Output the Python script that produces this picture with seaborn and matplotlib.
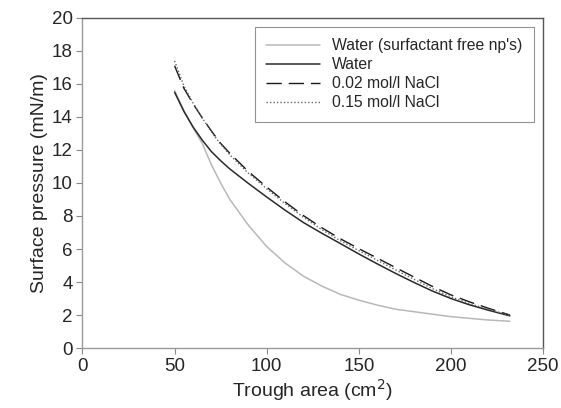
import matplotlib
matplotlib.use("Agg")
import matplotlib.pyplot as plt
import seaborn as sns
import pandas as pd

area = [50, 55, 60, 65, 70, 75, 80, 90, 100, 110, 120, 130, 140, 150, 160,
        170, 180, 190, 200, 210, 220, 232]
free_np = [15.6, 14.4, 13.35, 12.4, 11.1, 10.0, 9.0, 7.45, 6.15, 5.15, 4.35, 3.75,
           3.25, 2.9, 2.6, 2.35, 2.2, 2.05, 1.9, 1.8, 1.7, 1.62]
water = [15.5, 14.35, 13.4, 12.6, 11.9, 11.35, 10.85, 9.98, 9.15, 8.35, 7.6, 6.95,
         6.33, 5.7, 5.1, 4.52, 3.97, 3.45, 3.0, 2.62, 2.3, 1.95]
nacl_002 = [17.1, 15.75, 14.8, 13.95, 13.15, 12.4, 11.8, 10.7, 9.75, 8.85, 8.02, 7.28,
            6.62, 6.02, 5.45, 4.87, 4.3, 3.73, 3.22, 2.8, 2.42, 2.0]
nacl_015 = [17.4, 15.9, 14.85, 13.95, 13.1, 12.35, 11.7, 10.6, 9.65, 8.75, 7.92, 7.17,
            6.5, 5.9, 5.32, 4.73, 4.16, 3.6, 3.1, 2.7, 2.35, 1.98]

labels = ["Water (surfactant free np's)", "Water", "0.02 mol/l NaCl", "0.15 mol/l NaCl"]

sns.set_theme(style="white")
plt.rcParams['font.family'] = ['Liberation Sans', 'DejaVu Sans']

rows = []
for lab, vals in zip(labels, [free_np, water, nacl_002, nacl_015]):
    for a, v in zip(area, vals):
        rows.append({"area": a, "pressure": v, "series": lab})
df = pd.DataFrame(rows)

fig = plt.figure(figsize=(5.61, 4.08), dpi=100)
ax = fig.add_axes([0.147, 0.147, 0.821, 0.809])

styles = {
    labels[0]: dict(color="#b8b8b8", ls="-", lw=1.1),
    labels[1]: dict(color="#2a2a2a", ls="-", lw=1.1),
    labels[2]: dict(color="#1a1a1a", ls=(0, (11, 5)), lw=1.0),
    labels[3]: dict(color="#666666", ls=(0, (1, 1.5)), lw=1.0),
}
for lab in labels:
    sub = df[df["series"] == lab]
    sns.lineplot(data=sub, x="area", y="pressure", ax=ax, label=lab,
                 color=styles[lab]["color"], linestyle=styles[lab]["ls"],
                 linewidth=styles[lab]["lw"])

ax.set_xlim(0, 250)
ax.set_ylim(0, 20)
ax.set_xticks([0, 50, 100, 150, 200, 250])
ax.set_yticks(range(0, 21, 2))
ax.tick_params(axis="both", which="major", labelsize=13.5, direction="out",
               length=4, width=0.8, color="#888888", pad=3, left=True, bottom=True)
ax.set_xlabel("Trough area (cm$^2$)", fontsize=14, labelpad=2)
ax.set_ylabel("Surface pressure (mN/m)", fontsize=14, labelpad=3)

for s in ["left", "bottom"]:
    ax.spines[s].set_color("#999999")
    ax.spines[s].set_linewidth(1.0)
for s in ["top", "right"]:
    ax.spines[s].set_color("#555555")
    ax.spines[s].set_linewidth(1.0)

leg = ax.legend(loc="upper right", fontsize=11.3,
                frameon=True, fancybox=False, edgecolor="#777777",
                handlelength=3.4, handletextpad=0.8, labelspacing=0.25,
                borderpad=0.75, borderaxespad=0.55)
leg.get_frame().set_linewidth(0.8)

fig.savefig("out.png", dpi=100)
